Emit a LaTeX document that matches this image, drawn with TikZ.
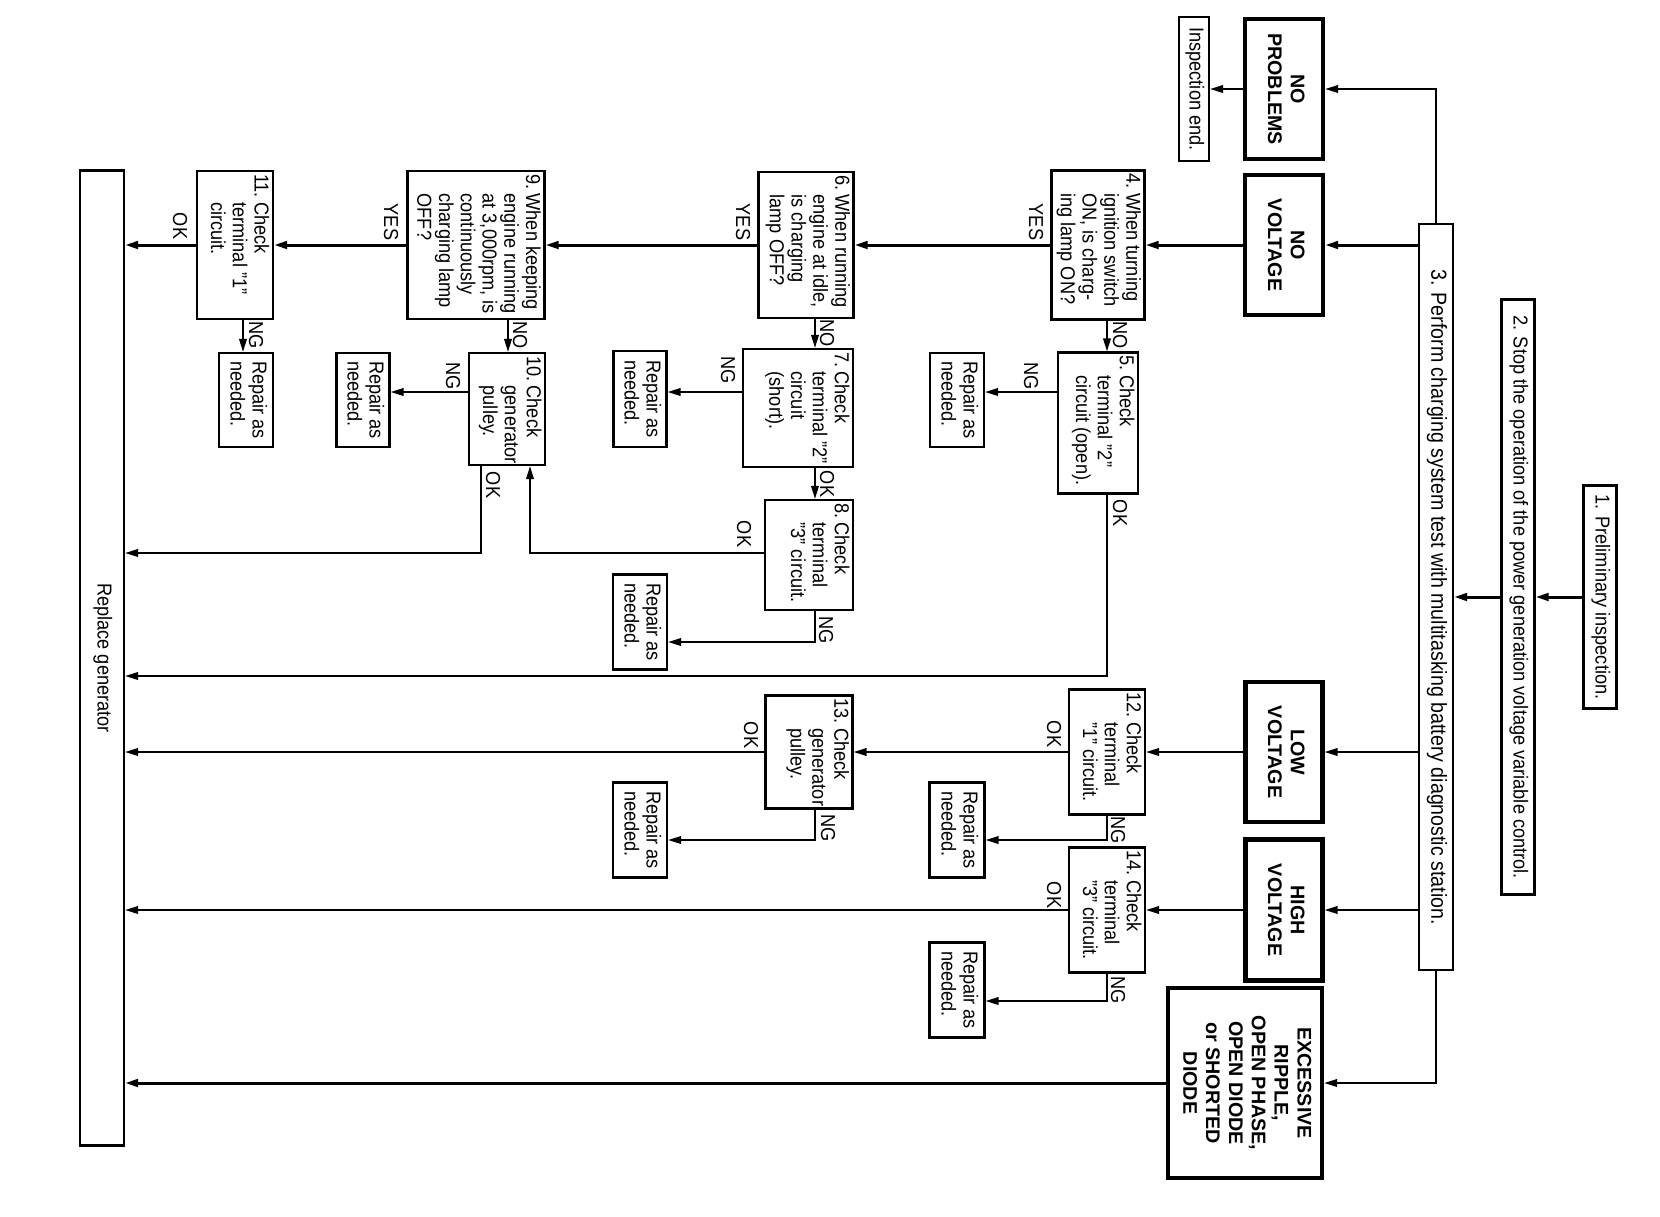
\documentclass[tikz,border=0pt]{standalone}
\usepackage{fontspec}
\setmainfont{Liberation Sans}[UprightFeatures={FakeStretch=0.9}]
\usepackage{graphicx}
\usetikzlibrary{arrows.meta}

\newcommand{\stepfont}{\fontsize{5.75}{6.2}\selectfont}
\newcommand{\headfont}{\fontsize{5.6}{6.5}\selectfont\bfseries}
% a text block turned a quarter clockwise, kept at its top left corner
\newcommand{\sidetext}[3]{\rotatebox{-90}{\parbox[c][#2][t]{#1}{#3}}}
\newcommand{\numtext}[2]{\begin{tabular}[t]{@{}l@{\hspace{0.22em}}l@{}}#1&\begin{tabular}[t]{@{}l@{}}#2\end{tabular}\end{tabular}}
\newcommand{\turned}[1]{\rotatebox{-90}{\begin{tabular}{@{}c@{}}#1\end{tabular}}}
\newcommand{\turnedleft}[1]{\rotatebox{-90}{\begin{tabular}{@{}l@{}}#1\end{tabular}}}

\begin{document}
\begin{tikzpicture}[x=0.1mm, y=-0.1mm, >={Triangle[length=1.3mm,width=0.75mm]},
		stepbox/.style={draw, line width=0.6pt, inner sep=0.3mm, font=\stepfont},
		plainbox/.style={draw, line width=0.6pt, inner sep=0pt, font=\stepfont},
		headbox/.style={draw, line width=1.2pt, inner sep=0pt, font=\headfont},
		lab/.style={font=\stepfont, inner sep=0pt, rotate=-90},
		flow/.style={->, line width=0.55pt},
		mainflow/.style={->, line width=0.85pt}]
			\useasboundingbox (0,0) rectangle (1660,1216);
			% lanes of the bent connectors
			\coordinate (laneA) at (1107,0);
			\coordinate (laneB) at (815,0);
			\coordinate (laneC) at (530,0);
			\coordinate (laneD) at (508,0);
			\coordinate (laneE) at (481,0);
			\coordinate (laneF) at (243,0);
			\coordinate (rowA) at (0,392);
			\coordinate (rowB) at (0,553);
			\coordinate (rowC) at (0,642);
			\coordinate (rowD) at (0,676);
			\coordinate (rowF) at (0,840);
			\coordinate (rowG) at (0,1001);
			% first steps
			\node[plainbox, minimum width=3.3mm, minimum height=22.3mm] (b1) at (1600,597) {\turned{1. Preliminary inspection.}};
			\node[plainbox, minimum width=3.3mm, minimum height=59.5mm] (b2) at (1518,597) {\turned{2. Stop the operation of the power generation voltage variable control.}};
			\node[plainbox, minimum width=3.4mm, minimum height=74.6mm, font=\fontsize{6.2}{6.2}\selectfont] (b3) at (1436,597) {\turned{3. Perform charging system test with multitasking battery diagnostic station.}};
			% results
			\node[headbox, minimum width=7.8mm, minimum height=14mm] (np) at (1284,89) {\turned{NO\\PROBLEMS}};
			\node[plainbox, minimum width=3mm, minimum height=14.4mm] (ie) at (1194,89) {\turned{Inspection end.}};
			\node[headbox, minimum width=7.8mm, minimum height=14mm] (nv) at (1284,245) {\turned{NO\\VOLTAGE}};
			\node[headbox, minimum width=7.7mm, minimum height=14mm] (lv) at (1284,752) {\turned{LOW\\VOLTAGE}};
			\node[headbox, minimum width=7.7mm, minimum height=14.1mm] (hv) at (1284,910) {\turned{HIGH\\VOLTAGE}};
			\node[headbox, minimum width=15.4mm, minimum height=19mm] (ex) at (1245,1083) {\turned{EXCESSIVE\\RIPPLE,\\OPEN PHASE,\\OPEN DIODE\\or SHORTED\\DIODE}};
			% checks
			\node[stepbox] (b4) at (1098,245) {\sidetext{14.3mm}{8.7mm}{\numtext{4.}{When turning\\ignition switch\\ON, is charg-\\ing lamp ON?}}};
			\node[stepbox] (b5) at (1098,423) {\sidetext{13.5mm}{7.4mm}{\numtext{5.}{Check\\terminal "2"\\circuit (open).}}};
			\node[stepbox] (b6) at (806,245) {\sidetext{14mm}{8.9mm}{\numtext{6.}{When running\\engine at idle,\\is charging\\lamp OFF?}}};
			\node[stepbox] (b7) at (798,408) {\sidetext{11.2mm}{10.4mm}{\numtext{7.}{Check\\terminal "2"\\circuit\\(short).}}};
			\node[stepbox] (b8) at (809,555) {\sidetext{10.4mm}{8.2mm}{\numtext{8.}{Check\\terminal\\"3" circuit.}}};
			\node[stepbox] (b9) at (476,245) {\sidetext{14.2mm}{13.1mm}{\numtext{9.}{When keeping\\engine running\\at 3,000rpm, is\\continuously\\charging lamp\\OFF?}}};
			\node[stepbox] (b10) at (507,409) {\sidetext{10.6mm}{7mm}{\numtext{10.}{Check\\generator\\pulley.}}};
			\node[stepbox] (b11) at (235,245) {\sidetext{14.2mm}{7mm}{\numtext{11.}{Check\\terminal "1"\\circuit.}}};
			\node[stepbox] (b12) at (1107,752) {\sidetext{11.9mm}{7mm}{\numtext{12.}{Check\\terminal\\"1" circuit.}}};
			\node[stepbox] (b13) at (809,752) {\sidetext{10.7mm}{8.1mm}{\numtext{13.}{Check\\generator\\pulley.}}};
			\node[stepbox] (b14) at (1107,910) {\sidetext{11.9mm}{7mm}{\numtext{14.}{Check\\terminal\\"3" circuit.}}};
			% repairs
			\node[plainbox, minimum width=5.4mm, minimum height=9.4mm] (r5) at (957,400) {\turnedleft{Repair as\\needed.}};
			\node[plainbox, minimum width=5.3mm, minimum height=9.6mm] (r7) at (640,399) {\turnedleft{Repair as\\needed.}};
			\node[plainbox, minimum width=5.4mm, minimum height=9.5mm] (r8) at (640,622) {\turnedleft{Repair as\\needed.}};
			\node[plainbox, minimum width=5.3mm, minimum height=9.4mm] (r10) at (363,400) {\turnedleft{Repair as\\needed.}};
			\node[plainbox, minimum width=5.4mm, minimum height=9.4mm] (r11) at (246,400) {\turnedleft{Repair as\\needed.}};
			\node[plainbox, minimum width=5.5mm, minimum height=9.5mm] (r12) at (957,830) {\turnedleft{Repair as\\needed.}};
			\node[plainbox, minimum width=5.4mm, minimum height=9.5mm] (r13) at (640,830) {\turnedleft{Repair as\\needed.}};
			\node[plainbox, minimum width=5.5mm, minimum height=9.5mm] (r14) at (957,990) {\turnedleft{Repair as\\needed.}};
			\node[plainbox, minimum width=4.4mm, minimum height=97.5mm] (rg) at (102,658) {\turned{Replace generator}};
			% connectors
			\draw[mainflow] (b1) -- (b2);
			\draw[mainflow] (b2) -- (b3);
			\draw[flow] (b3.north) |- (np.east);
			\draw[mainflow] (b3.west |- nv.east) -- (nv.east);
			\draw[flow] (b3.west |- lv.east) -- (lv.east);
			\draw[flow] (b3.west |- hv.east) -- (hv.east);
			\draw[flow] (b3.south) |- (ex.east);
			\draw[flow] (np.west) -- (ie.east);
			\draw[mainflow] (nv.west) -- (b4.east);
			\draw[mainflow] (b4.west) -- (b6.east);
			\draw[mainflow] (b6.west) -- (b9.east);
			\draw[mainflow] (b9.west) -- (b11.east);
			\draw[mainflow] (b11.west) -- (rg.east |- b11.west);
			\draw[flow] (b4.south -| laneA) -- (b5.north -| laneA);
			\draw[flow] (b5.west |- rowA) -- (r5.east |- rowA);
			\draw[flow] (b5.south -| laneA) |- (rg.east |- rowD);
			\draw[flow] (b6.south -| laneB) -- (b7.north -| laneB);
			\draw[flow] (b7.west |- rowA) -- (r7.east |- rowA);
			\draw[flow] (b7.south -| laneB) -- (b8.north -| laneB);
			\draw[flow] (b8.west |- rowB) -| (b10.south -| laneC);
			\draw[flow] (b8.south -| laneB) |- (r8.east |- rowC);
			\draw[flow] (b9.south -| laneD) -- (b10.north -| laneD);
			\draw[flow] (b10.west |- rowA) -- (r10.east |- rowA);
			\draw[flow] (b10.south -| laneE) |- (rg.east |- rowB);
			\draw[flow] (b11.south -| laneF) -- (r11.north -| laneF);
			\draw[flow] (lv.west) -- (b12.east);
			\draw[flow] (b12.west) -- (b13.east);
			\draw[flow] (b13.west) -- (rg.east |- b13.west);
			\draw[flow] (b12.south) |- (r12.east |- rowF);
			\draw[flow] (b13.south -| laneB) |- (r13.east |- rowF);
			\draw[flow] (hv.west) -- (b14.east);
			\draw[flow] (b14.west) -- (rg.east |- b14.west);
			\draw[flow] (b14.south) |- (r14.east |- rowG);
			\draw[mainflow] (ex.west) -- (rg.east |- ex.west);
			% answers
			\node[lab] (yes4) at (1036,222) {YES};
			\node[lab] (no4) at (1120,335) {NO};
			\node[lab] (ng5) at (1031,376) {NG};
			\node[lab] (ok5) at (1120,513) {OK};
			\node[lab] (yes6) at (743,222) {YES};
			\node[lab] (no6) at (827,333) {NO};
			\node[lab] (ng7) at (728,370) {NG};
			\node[lab] (ok7) at (827,484) {OK};
			\node[lab] (ok8) at (744,534) {OK};
			\node[lab] (ng8) at (826,630) {NG};
			\node[lab] (yes9) at (391,222) {YES};
			\node[lab] (no9) at (520,335) {NO};
			\node[lab] (ng10) at (453,376) {NG};
			\node[lab] (ok10) at (493,485) {OK};
			\node[lab] (ng11) at (256,335) {NG};
			\node[lab] (ok11) at (180,226) {OK};
			\node[lab] (ok12) at (1054,734) {OK};
			\node[lab] (ng12) at (1118,830) {NG};
			\node[lab] (ok13) at (751,735) {OK};
			\node[lab] (ng13) at (828,828) {NG};
			\node[lab] (ok14) at (1054,895) {OK};
			\node[lab] (ng14) at (1118,990) {NG};
		\end{tikzpicture}
\end{document}
